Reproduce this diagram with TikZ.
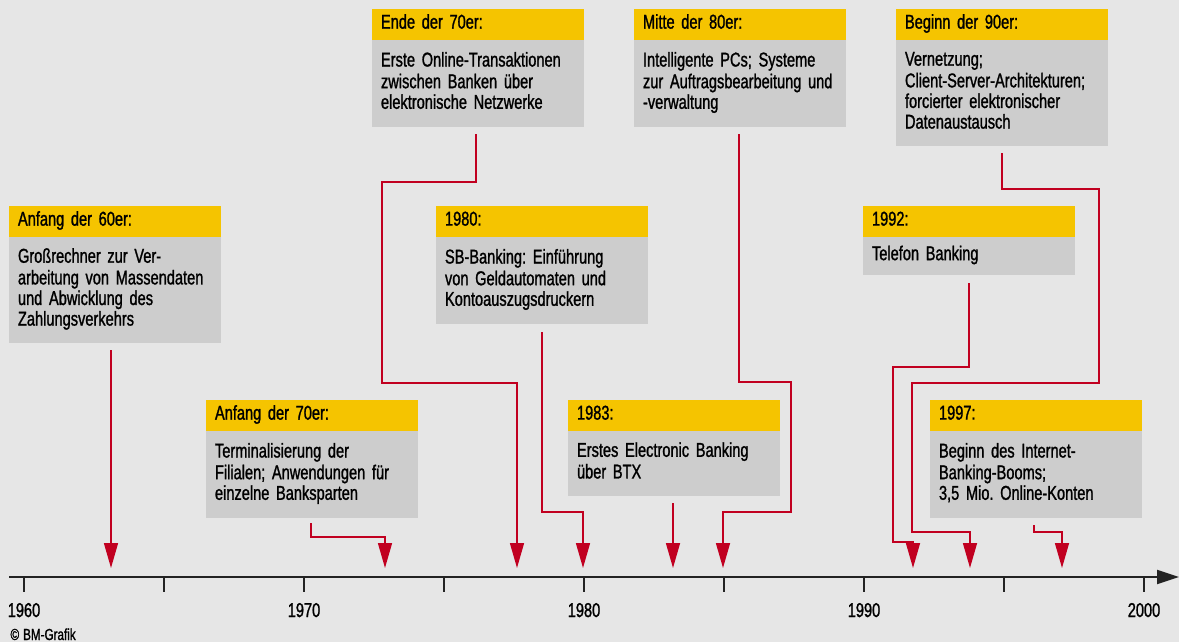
\documentclass[tikz,border=0pt]{standalone}
\usepackage{fontspec}
\setmainfont{Liberation Sans}[FakeStretch=0.73,FakeBold=1.2,WordSpace=0.6]
\frenchspacing
\usetikzlibrary{arrows.meta,positioning}

\definecolor{bggray}{RGB}{230,230,230}
\definecolor{boxgray}{RGB}{205,205,205}
\definecolor{headyellow}{RGB}{245,196,0}
\definecolor{arrowred}{RGB}{193,0,32}
\definecolor{axisgray}{RGB}{35,35,35}

\tikzset{
  boxhead/.style={anchor=north west,fill=headyellow,minimum width=212,minimum height=31,
    text width=194,inner xsep=9,inner ysep=0,outer sep=0,align=left,
    font=\fontsize{20}{20.6}\selectfont,execute at begin node=\strut},
  boxbody/.style={anchor=north west,fill=boxgray,minimum width=212,
    text width=194,inner xsep=9,inner ysep=0,outer sep=0,align=left,
    font=\fontsize{20}{20.6}\selectfont,
    execute at begin node=\strut,execute at end node=\strut},
  year/.style={anchor=base,font=\fontsize{20}{20.6}\selectfont},
  flow/.style={arrowred,line width=1.5,-{Triangle[width=14pt,length=25pt]}},
}

\begin{document}
\begin{tikzpicture}[x=1pt,y=-1pt]
	\fill[bggray] (0,0) rectangle (1179,642);
	\useasboundingbox (0,0) rectangle (1179,642);
	% time axis
	\draw[axisgray,line width=2,-{Triangle[width=14pt,length=22pt]}] (9,577) -- (1179,577);
	\foreach \i in {0,...,8} \draw[axisgray,line width=1.5] (24+140*\i,577) -- (24+140*\i,592);
	\foreach \y [count=\i from 0] in {1960,1970,...,2000} \node[year] (lbl\y) at (24+280*\i,617) {\y};
	\node[anchor=base west,font=\fontsize{16}{18}\selectfont] (copy) at (7,640) {\textcopyright\hspace{4pt}BM-Grafik};
	% boxes
	\node[boxhead] (h60) at (9,206) {Anfang der 60er:};
	\node[boxbody,minimum height=106] (b60) at (h60.south west) {Großrechner zur Ver-\\arbeitung von Massendaten\\und Abwicklung des\\Zahlungsverkehrs};
	\node[boxhead] (h70a) at (206,400) {Anfang der 70er:};
	\node[boxbody,minimum height=87] (b70a) at (h70a.south west) {Terminalisierung der\\Filialen; Anwendungen für\\einzelne Banksparten};
	\node[boxhead] (h70e) at (372,9) {Ende der 70er:};
	\node[boxbody,minimum height=87] (b70e) at (h70e.south west) {Erste Online-Transaktionen\\zwischen Banken über\\elektronische Netzwerke};
	\node[boxhead] (h80) at (436,206) {1980:};
	\node[boxbody,minimum height=87] (b80) at (h80.south west) {SB-Banking: Einführung\\von Geldautomaten und\\Kontoauszugsdruckern};
	\node[boxhead] (h83) at (568,400) {1983:};
	\node[boxbody,minimum height=65] (b83) at (h83.south west) {Erstes Electronic Banking\\über BTX};
	\node[boxhead] (h80m) at (634,9) {Mitte der 80er:};
	\node[boxbody,minimum height=87] (b80m) at (h80m.south west) {Intelligente PCs; Systeme\\zur Auftragsbearbeitung und\\-verwaltung};
	\node[boxhead] (h90) at (896,9) {Beginn der 90er:};
	\node[boxbody,minimum height=106] (b90) at (h90.south west) {Vernetzung;\\Client-Server-Architekturen;\\forcierter elektronischer\\Datenaustausch};
	\node[boxhead] (h92) at (863,206) {1992:};
	\node[boxbody,minimum height=38] (b92) at (h92.south west) {Telefon Banking};
	\node[boxhead] (h97) at (930,400) {1997:};
	\node[boxbody,minimum height=87] (b97) at (h97.south west) {Beginn des Internet-\\Banking-Booms;\\3,5 Mio. Online-Konten};
	% start and end points of the arrows
	\coordinate (s60) at (111,350);   \coordinate (t60) at (111,568);
	\coordinate (s70a) at (311,523);  \coordinate (t70a) at (385,568);
	\coordinate (s70e) at (476,134);  \coordinate (t70e) at (517,568);
	\coordinate (s80) at (542,332);   \coordinate (t80) at (583,568);
	\coordinate (s83) at (673,503);   \coordinate (t83) at (673,568);
	\coordinate (s80m) at (739,134);  \coordinate (t80m) at (723,568);
	\coordinate (s92) at (969,283);   \coordinate (t92) at (913,568);
	\coordinate (s90) at (1002,153);  \coordinate (t90) at (970,568);
	\coordinate (s97) at (1034,525);  \coordinate (t97) at (1062,568);
	% arrows
	\draw[flow] (s60) -- (t60);
	\draw[flow] (s70a) |- (385,537) -- (t70a);
	\draw[flow] (s70e) |- (382,182) |- (517,383) -- (t70e);
	\draw[flow] (s80) |- (583,512) -- (t80);
	\draw[flow] (s83) -- (t83);
	\draw[flow] (s80m) |- (791,382) |- (723,512) -- (t80m);
	\draw[flow] (s92) |- (893,367) |- (913,542) -- (t92);
	\draw[flow] (s90) |- (1099,189) |- (912,383) |- (970,532) -- (t90);
	\draw[flow] (s97) |- (1062,532) -- (t97);
\end{tikzpicture}
\end{document}
